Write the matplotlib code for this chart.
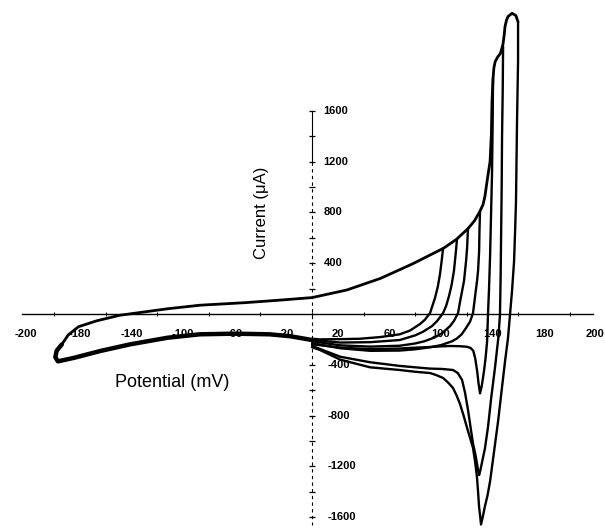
import matplotlib
matplotlib.use("Agg")
import matplotlib.pyplot as plt

plt.rcParams['font.family'] = ['Liberation Sans', 'DejaVu Sans']

# forward sweep: from the -200 mV turnaround up to the top of the anodic peak
fwd_mv = [-194, -189, -181, -167, -149, -133, -112, -87, -52, -25, 0, 27, 53, 78,
          102, 112, 121, 126, 130, 132.5, 134, 136, 138, 139, 139.5, 140.3, 141,
          142, 144, 146, 148, 149, 149.6, 150.8, 152, 155, 158, 159.7]
fwd_ua = [-240, -165, -100, -54, -10, 12, 41, 69, 89, 109, 129, 189, 280, 395,
          518, 588, 673, 735, 806, 860, 925, 1067, 1200, 1413, 1672, 1855, 1940,
          1988, 2025, 2051, 2122, 2200, 2264, 2315, 2343, 2367, 2350, 2300]

# common cathodic branch from 0 mV back to -200 mV and the turnaround hook
left_mv = [0, -17, -33, -60, -87, -112, -141, -164, -184, -197, -199, -198, -194]
left_ua = [-205, -175, -160, -155, -160, -187, -239, -291, -344, -373, -340, -290, -240]

# reverse sweeps, one per switching potential, each run down to 0 mV
rev1_mv = [101.6, 100.5, 99.2, 97.5, 95.3, 91.5, 87.5, 83.7, 76, 68, 52.7, 37, 22, 6, 0]
rev1_ua = [518, 420, 315, 215, 126, 8, -45, -79, -130, -160, -182, -195, -198, -200, -195]

rev2_mv = [112.4, 111.3, 110, 108.2, 106.2, 104, 101.6, 97, 93, 86, 80, 68, 45, 22, 0]
rev2_ua = [591, 470, 339, 230, 142, 65, 8, -55, -95, -140, -168, -205, -222, -225, -205]

rev3_mv = [120.9, 120.2, 119.4, 117.8, 116.3, 114.7, 113.2, 110, 107, 101, 95, 87, 80,
           68, 45, 22, 0]
rev3_ua = [677, 520, 417, 260, 180, 95, 8, -55, -95, -150, -185, -215, -232,
           -250, -257, -247, -215]

rev4_mv = [130.2, 129.8, 129.5, 128.7, 127.9, 126.4, 124.8, 122.5, 119.4, 116, 112,
           108.5, 100, 91.5, 80, 68, 45, 22, 0]
rev4_ua = [808, 660, 493, 340, 260, 140, 8, -60, -110, -160, -195, -215, -245,
           -262, -278, -288, -290, -270, -230]

rev5_mv = [140.3, 140, 139.5, 138.8, 138, 137.2, 136.4, 135.7, 134.5, 133.3, 131.5,
           130.2, 129, 128, 126.5, 125, 123, 120, 115, 107, 100, 91.5, 80, 68, 45,
           22, 0]
rev5_ua = [1855, 1500, 1100, 800, 450, 200, 0, -216, -350, -450, -570, -625, -540,
           -450, -350, -290, -268, -258, -254, -252, -255, -260, -265, -272, -277,
           -265, -238]

rev6_mv = [148.1, 147.8, 147.3, 147, 146.6, 146.2, 145.7, 144.5, 141.9, 139, 136.4,
           134, 131.8, 130.5, 129.5, 128.7, 127.9, 126.5, 124.8, 123, 120.9, 118.6,
           116.3, 113, 109.3, 101, 91.5, 80, 68, 45, 22, 6, 0]
rev6_ua = [2105, 1750, 1400, 1000, 650, 300, 0, -180, -416, -650, -890, -1060,
           -1166, -1230, -1268, -1230, -1180, -1100, -1022, -900, -755, -620, -520,
           -465, -441, -433, -430, -420, -409, -380, -337, -275, -250]

rev7_mv = [159.7, 159.7, 159.3, 158.9, 158.5, 158.1, 157.4, 156.6, 155, 153.5, 151.9,
           149.6, 147, 144.2, 141, 138, 136, 134, 132.5, 131, 130.3, 129.5, 128.7,
           127.9, 126.5, 124.8, 122.5, 120.2, 117.5, 114.7, 112, 109.3, 105.5, 101.6,
           96, 91.5, 80, 68, 45, 22, 6, 0]
rev7_ua = [2300, 1990, 1750, 1516, 1200, 887, 650, 414, 178, 0, -190, -373, -600,
           -846, -1090, -1318, -1430, -1515, -1590, -1657, -1590, -1520, -1400, -1290,
           -1170, -1055, -975, -898, -800, -709, -640, -583, -540, -504, -480, -465,
           -455, -441, -420, -360, -283, -262]

reverse_sweeps = [(rev1_mv, rev1_ua), (rev2_mv, rev2_ua), (rev3_mv, rev3_ua),
                  (rev4_mv, rev4_ua), (rev5_mv, rev5_ua), (rev6_mv, rev6_ua),
                  (rev7_mv, rev7_ua)]

# axis labelling
xtick_pos = [-222, -180, -140, -100, -60, -20, 20, 60, 100, 140, 180, 219]
xtick_txt = ["-200", "-180", "-140", "-100", "-60", "-20", "20", "60", "100", "140", "180", "200"]
ytick_vals = [1600, 1200, 800, 400, -400, -800, -1200, -1600]

fig = plt.figure(figsize=(6.05, 5.28), dpi=100)
ax = fig.add_axes([0, 0, 1, 1])
ax.set_xlim(-241.9, 227.1)
ax.set_ylim(-1685, 2472)
ax.axis('off')

# axes drawn through the origin
ax.plot([-225, 218], [0, 0], color='black', lw=1.0)
ax.plot([-200 + 40 * i for i in range(11)], [0] * 11, ls='none', marker='|',
        ms=3, mew=0.8, color='black')
ax.plot([0, 0], [1600, 1200], color='black', lw=0.8)
ax.plot([0, 0], [1200, -1660], color='black', lw=0.8, ls=(0, (3, 3)))
ax.plot([0] * 16, [v for v in range(-1600, 1601, 200) if v != 0], ls='none',
        marker='_', ms=5, mew=0.9, color='black')

for pos, txt in zip(xtick_pos, xtick_txt):
    ax.text(pos, -160, txt, ha='center', va='center', fontsize=8,
            fontweight='bold')
for v in ytick_vals:
    ax.text(9 if v > 0 else 12, v, f"{v}", ha='left', va='center',
            fontsize=8, fontweight='bold')

ax.text(-38.8, 795, "Current (μA)", rotation=90, ha='center', va='center', fontsize=12)
ax.text(-108.5, -543, "Potential (mV)", ha='center', va='center', fontsize=13)

# voltammogram traces
ax.plot(fwd_mv, fwd_ua, color='black', lw=2.0, solid_capstyle='round',
        solid_joinstyle='round')
ax.plot(left_mv, left_ua, color='black', lw=3.2, solid_capstyle='round',
        solid_joinstyle='round')
for mv, ua in reverse_sweeps:
    ax.plot(mv, ua, color='black', lw=1.7, solid_capstyle='round', solid_joinstyle='round')

fig.savefig("out.png", dpi=100)
